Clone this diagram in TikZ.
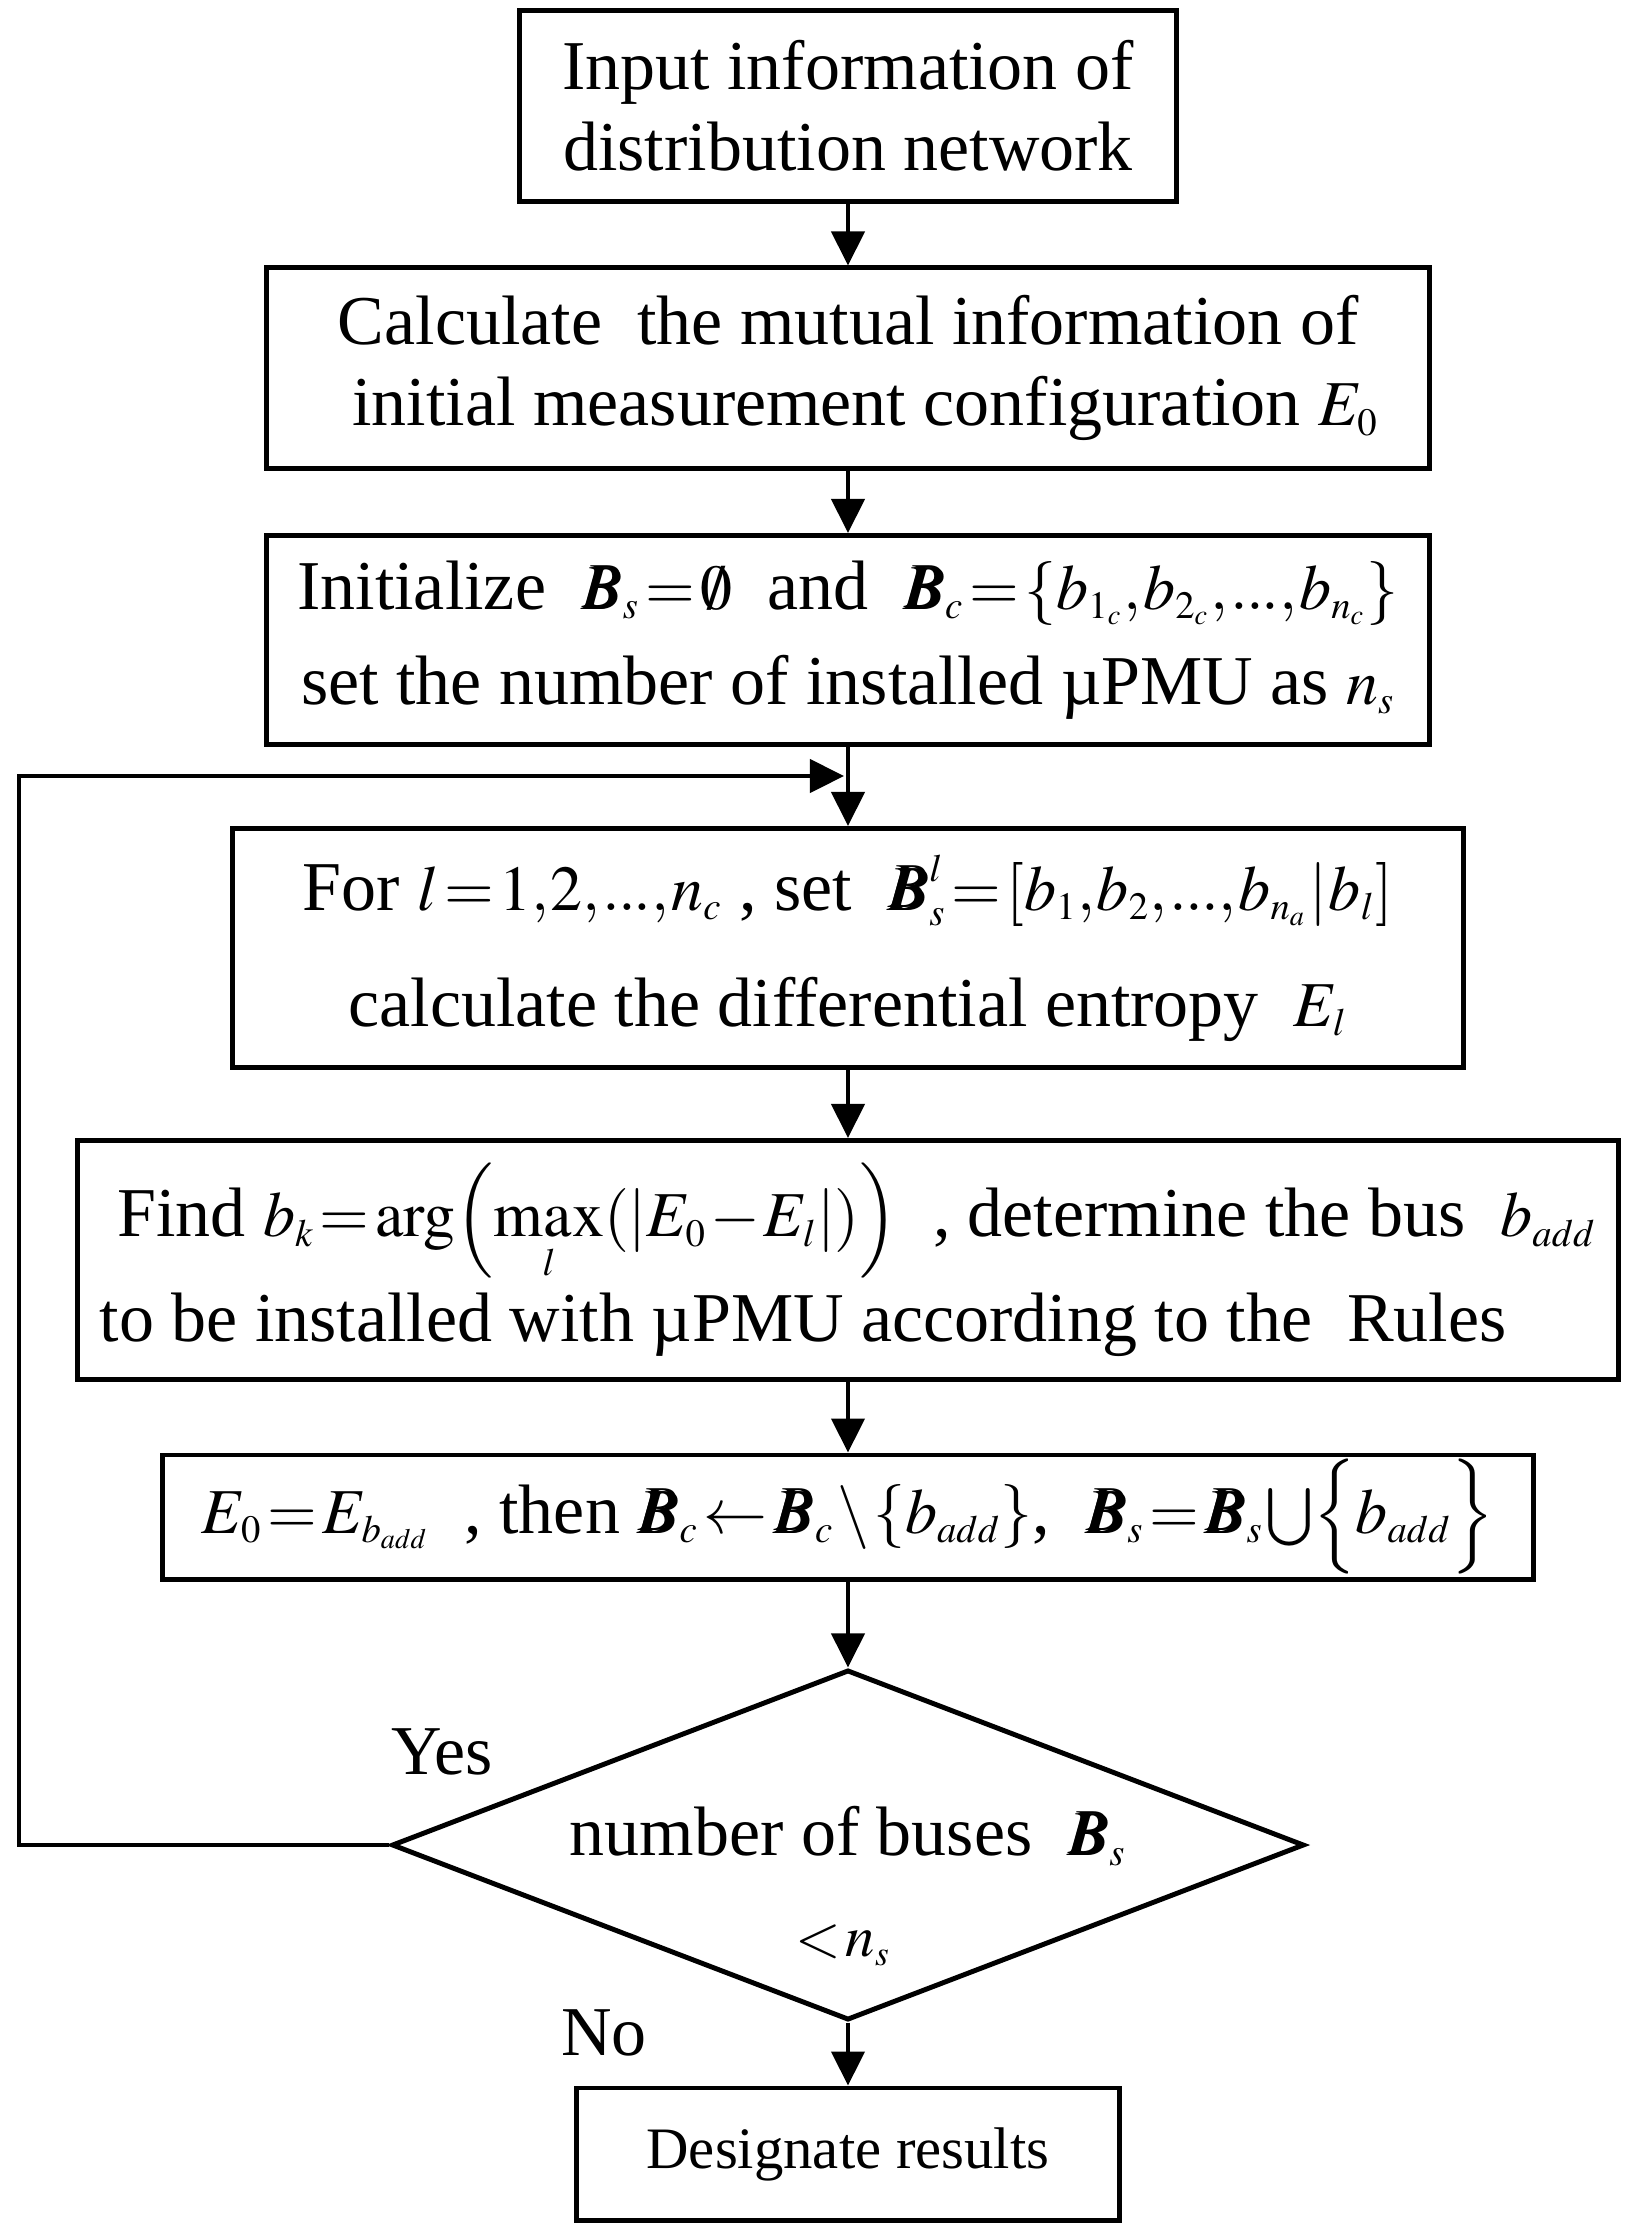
\documentclass[tikz,border=0pt]{standalone}
\usepackage{mathptmx}
\usepackage{bm}
\usepackage{fontspec}
\setmainfont{Liberation Serif}
\usetikzlibrary{arrows.meta,shapes.geometric}
\newcommand{\mainsz}{\fontsize{19.9pt}{23pt}\selectfont}
\newcommand{\smallsz}{\fontsize{16.7pt}{20pt}\selectfont}
\DeclareMathSizes{19.9}{18.2}{11}{8}
\DeclareMathSizes{16.7}{16.7}{10}{8}
\newcommand{\tightmath}{\thickmuskip=1.5mu\medmuskip=1mu\thinmuskip=0.5mu}
\newcommand{\tdots}{.\mkern-0.5mu.\mkern-0.5mu.}
\tikzset{
  box/.style={draw, line width=1.4pt, inner sep=0pt, align=center, font=\mainsz,
    execute at begin node=\tightmath},
  flow/.style={-{Triangle[length=0.34cm,width=0.33cm]}, line width=1.2pt},
  tag/.style={inner sep=0pt, font=\mainsz, execute at begin node=\tightmath}
}
\begin{document}
\begin{tikzpicture}[x=0.01cm,y=-0.01cm]
    \useasboundingbox (0,0) rectangle (1627,2223);
    \node[box, minimum width=6.57cm, minimum height=1.90cm] (input) at (848,106)
      {Input information of\\distribution network};
    \node[box, minimum width=11.63cm, minimum height=2.00cm] (mutual) at (848,368)
      {Calculate \ the mutual information of\\ \ \ initial measurement configuration $E_0$};
    \node[box, minimum width=11.63cm, minimum height=2.09cm] (init) at (848,640)
      {Initialize \ $\bm{B}_s=\emptyset$ \ and \ $\bm{B}_c=\left\{b_{1_c},b_{2_c},\tdots,b_{n_c}\right\}$\\[4pt]
       set the number of installed µPMU as $n_s$};
    \node[box, minimum width=12.31cm, minimum height=2.39cm] (forloop) at (848,948)
      {For $l=1,2,\tdots,n_c$ , set \ $\bm{B}_s^l=\left[b_1,b_2,\tdots,b_{n_a}\,|\,b_l\right]$\\[10pt]
       calculate the differential entropy \ $E_l$};
    \node[box, minimum width=15.41cm, minimum height=2.39cm, align=left] (find) at (848,1260)
      {\ Find $b_k=\arg\!\left(\max\limits_l\!\left(\left|E_0-E_l\right|\right)\right)$ \ , determine the bus \ $b_{add}$\\[2pt]
       to be installed with µPMU according to the \ Rules};
    \node[box, minimum width=13.71cm, minimum height=1.24cm] (update) at (848,1517)
      {$E_0=E_{b_{add}}$ \ , then $\bm{B}_c\leftarrow\bm{B}_c\setminus\left\{b_{add}\right\}$, \ $\bm{B}_s=\bm{B}_s\bigcup\Bigl\{b_{add}\Bigr\}$};
    \node[draw, diamond, line width=1.4pt, inner sep=0pt, minimum width=9.12cm, minimum height=3.50cm] (check) at (848,1845) {};
    \node[tag] (checktop) at (848,1836) {number of buses \ $\bm{B}_s$};
    \node[tag] (checkbot) at (843,1945) {\smallsz$<n_s$};
    \node[box, font=\smallsz, minimum width=5.42cm, minimum height=1.32cm] (result) at (848,2154)
      {Designate results};
    \node[tag] (yes) at (442,1752) {Yes};
    \node[tag] (no) at (604,2033) {No};
    \coordinate (corner) at (19,776);
    \coordinate (loopin) at (844,776);
    % main flow
    \draw[flow] (input) -- (mutual);
    \draw[flow] (mutual) -- (init);
    \draw[flow] (init) -- (forloop);
    \draw[flow] (forloop) -- (find);
    \draw[flow] (find) -- (update);
    \draw[flow] (update) -- (check);
    \draw[flow] (check) -- (result);
    % back loop
    \draw[flow] (check.west) -| (corner) -- (loopin);
\end{tikzpicture}
\end{document}
